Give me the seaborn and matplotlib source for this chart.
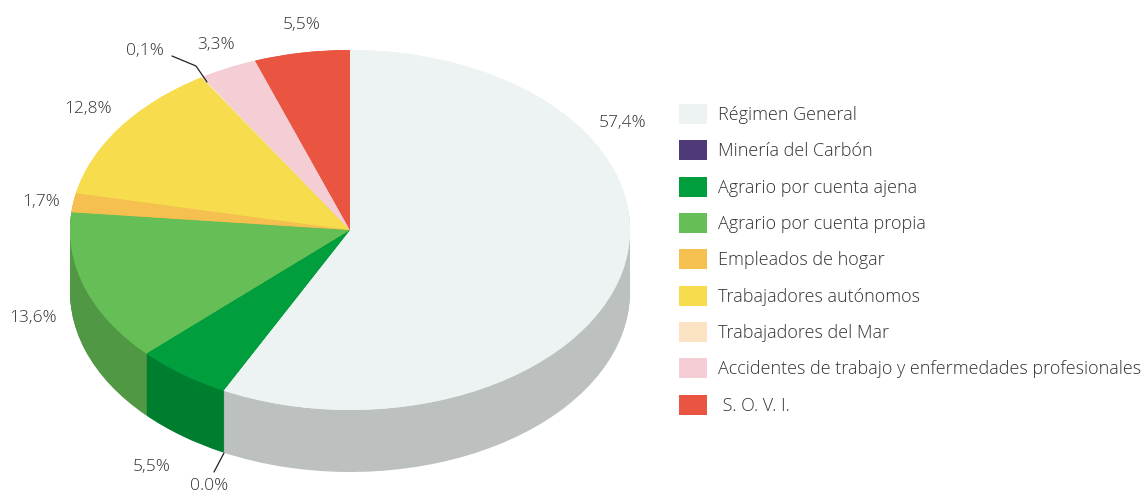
import numpy as np
import seaborn as sns
import matplotlib
matplotlib.use("Agg")
import matplotlib.pyplot as plt
from matplotlib.lines import Line2D
from matplotlib.patches import Patch
from matplotlib.colors import to_rgb

categories = ["Régimen General", "Minería del Carbón", "Agrario por cuenta ajena",
              "Agrario por cuenta propia", "Empleados de hogar", "Trabajadores autónomos",
              "Trabajadores del Mar", "Accidentes de trabajo y enfermedades profesionales",
              " S. O. V. I."]
values = [57.4, 0.0, 5.5, 13.6, 1.7, 12.8, 0.1, 3.3, 5.5]
value_labels = ["57,4%", "0.0%", "5,5%", "13,6%", "1,7%", "12,8%", "0,1%", "3,3%", "5,5%"]
colors = ["#edf3f2", "#4f3a78", "#009e3d", "#65bf56", "#f5c04f", "#f7dd4d", "#fbe3c3", "#f5cdd5", "#e95540"]

W, H = 1142, 494
CX, CY, RX, RY, DEPTH = 350, 230, 280, 180, 62
TEXT = "#333333"

sns.set_theme(style="white")
plt.rcParams["font.family"] = ["Open Sans", "DejaVu Sans"]

fig = plt.figure(figsize=(W / 100, H / 100), dpi=100)
ax = fig.add_axes([0, 0, 1, 1])

side = sns.color_palette([tuple(c * 0.795 for c in to_rgb(h)) for h in colors])


def px(x, y):
    # picture pixels to figure fraction
    return x / W, 1 - y / H


# side wall: the pie stacked from the bottom up, one pixel at a time
for d in range(DEPTH, 0, -1):
    ax.pie(values, colors=side, startangle=90, counterclock=False, radius=1,
           center=(0, -d / RY), wedgeprops=dict(linewidth=0), frame=False)
# top face, twice so the antialiased seams close up
for i in range(2):
    ax.pie(values, colors=colors, startangle=90, counterclock=False, radius=1,
           center=(0, 0), wedgeprops=dict(linewidth=0), frame=False)

ax.set_aspect("auto")
ax.set_xlim(-CX / RX, (W - CX) / RX)
ax.set_ylim((CY - H) / RY, CY / RY)
ax.axis("off")

label_pos = [(623, 123), (209, 486), (152, 467), (33, 318), (41, 202),
             (88, 109), (145, 51), (216, 45), (302, 25)]
for lab, (x, y) in zip(value_labels, label_pos):
    tx, ty = px(x, y)
    fig.text(tx, ty, lab, ha="center", va="center", fontsize=12.5, fontweight=300, color=TEXT)

leaders = [[(224, 453), (214, 472)], [(172, 56), (196, 66), (207, 82)]]
for pts in leaders:
    xs, ys = zip(*[px(*p) for p in pts])
    fig.add_artist(Line2D(xs, ys, color="#222222", lw=0.9))

handles = [Patch(facecolor=c, edgecolor="none") for c in colors]
lx, ly = px(679, 104)
leg = fig.legend(handles, categories, loc="upper left", bbox_to_anchor=(lx, ly),
                 bbox_transform=fig.transFigure, frameon=False, ncol=1,
                 fontsize=12.95, handlelength=1.55, handleheight=1.327,
                 handletextpad=0.61, labelspacing=0.91, labelcolor=TEXT,
                 borderpad=0, borderaxespad=0)
for t in leg.get_texts():
    t.set_fontweight(300)

fig.savefig("out.png", dpi=100)
